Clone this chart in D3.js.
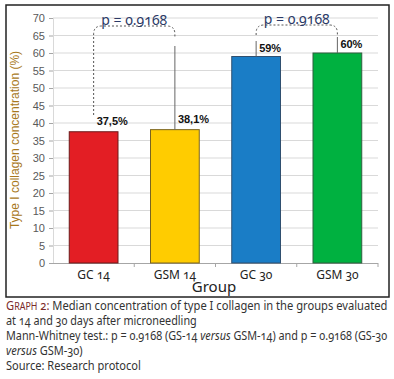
<!DOCTYPE html>
<html><head><meta charset="utf-8">
<script src="https://cdn.jsdelivr.net/npm/d3@7"></script>
<style>
html,body{margin:0;padding:0;background:#fff;}
.os{font-family:"Noto Sans","Open Sans",sans-serif;font-feature-settings:"onum" 1;font-variant-numeric:oldstyle-nums;}
</style></head>
<body>
<svg id="c" width="394" height="379"></svg>
<script>
const categories = ["GC 14", "GSM 14", "GC 30", "GSM 30"];
const values = [37.5, 38.1, 59, 60];
const valueLabels = ["37,5%", "38,1%", "59%", "60%"];
const barColors = ["#e31e24", "#ffcc00", "#1a7dc6", "#00b140"];
const barStrokes = ["#6b1a1a", "#7a6420", "#2f4f6f", "#2f5f3f"];
const yTicks = [0,5,10,15,20,25,30,35,40,45,50,55,60,65,70];
const pairs = [{a:0,b:1,p:"p = 0.9168"},{a:2,b:3,p:"p = 0.9168"}];

const svg = d3.select("#c");
svg.append("rect").attr("x",6).attr("y",5).attr("width",383).attr("height",292)
  .attr("fill","#fff").attr("stroke","#222").attr("stroke-width",1.5);

const x = d3.scaleBand().domain(categories).range([53,378]).paddingInner(0.4).paddingOuter(0.2);
const y = d3.scaleLinear().domain([0,70]).range([263,18]);

// gridlines
svg.append("g").selectAll("line").data(yTicks.filter(d=>d>0)).join("line")
  .attr("x1",53).attr("x2",378).attr("y1",d=>y(d)).attr("y2",d=>y(d))
  .attr("stroke","#d9d9d9").attr("stroke-width",1);

// y axis
const ya = svg.append("g").attr("transform","translate(53,0)")
  .call(d3.axisLeft(y).tickValues(yTicks).tickSize(4).tickPadding(4));
ya.select(".domain").attr("stroke","#d9d9d9");
ya.selectAll(".tick line").attr("stroke","#a6a6a6");
ya.selectAll("text").attr("font-family","Arial, Liberation Sans, sans-serif").attr("font-size",11).attr("fill","#595959");

// x axis
const xa = svg.append("g").attr("transform","translate(0,263)")
  .call(d3.axisBottom(x).tickSize(0).tickPadding(6));
xa.select(".domain").remove();
xa.selectAll("text").attr("class","os").attr("font-size",12).attr("fill","#222").attr("dy","0.8em");
svg.append("line").attr("x1",50).attr("x2",378).attr("y1",263.5).attr("y2",263.5).attr("stroke","#a6a6a6");
svg.append("g").selectAll("line").data(d3.range(1,5)).join("line")
  .attr("x1",i=>53+(378-53)/4*i).attr("x2",i=>53+(378-53)/4*i)
  .attr("y1",263).attr("y2",267).attr("stroke","#a6a6a6");

// bars
svg.append("g").selectAll("rect").data(values).join("rect")
  .attr("x",(d,i)=>x(categories[i])).attr("width",x.bandwidth())
  .attr("y",d=>y(d)).attr("height",d=>y(0)-y(d))
  .attr("fill",(d,i)=>barColors[i]).attr("stroke",(d,i)=>barStrokes[i]).attr("stroke-width",1);

// value labels
svg.append("g").selectAll("text").data(values).join("text")
  .attr("x",(d,i)=>x(categories[i])+x.bandwidth()/2+3)
  .attr("y",(d,i)=>y(d)-(i<2?7:5))
  .attr("font-family","Arial, Liberation Sans, sans-serif").attr("font-weight","bold")
  .attr("font-size",11).attr("fill","#111").text((d,i)=>valueLabels[i]);

// brackets
const cx = i => x(categories[i]) + x.bandwidth()/2;
const topY = [26, 25];
pairs.forEach((p,k)=>{
  const xa_ = cx(p.a), xb = cx(p.b), t = topY[k], r = 8;
  const leftEnd = k===0 ? 115 : 35;
  const path = d3.path();
  path.moveTo(xa_, leftEnd);
  path.lineTo(xa_, t + r);
  path.quadraticCurveTo(xa_, t, xa_ + r, t);
  path.lineTo(xb - r, t);
  path.quadraticCurveTo(xb, t, xb, t + r);
  path.lineTo(xb, t + 11);
  svg.append("path").attr("d", path.toString()).attr("fill","none")
    .attr("stroke","#555").attr("stroke-width",1).attr("stroke-dasharray","2,2");
  svg.append("text").attr("class","os").attr("x",(xa_+xb)/2).attr("y",t-1)
    .attr("text-anchor","middle").attr("font-size",14).attr("fill","#2b3a67").text(p.p);
});
// solid connector lines
const solid = [[1,46],[2,41],[3,37]];
solid.forEach(([i,y0])=>{
  svg.append("line").attr("x1",cx(i)).attr("x2",cx(i)).attr("y1",y0).attr("y2",y(values[i]))
    .attr("stroke","#666").attr("stroke-width",1);
});

// y label
svg.append("text").attr("transform","translate(19,140) rotate(-90)")
  .attr("text-anchor","middle").attr("font-family","Arial, Liberation Sans, sans-serif")
  .attr("font-size",12).attr("fill","#a8781c").text("Type I collagen concentration (%)");

// x title
svg.append("text").attr("class","os").attr("x",214).attr("y",292).attr("text-anchor","middle")
  .attr("font-size",15).attr("fill","#222").text("Group");

// caption (each line squeezed horizontally to the reference's width)
const cap = svg.append("g").attr("class","os").attr("font-size",12.5).attr("fill","#333");
function line(yy, w){
  const t = cap.append("text").attr("x",0).attr("y",0);
  return {t, fit(){ const nw = t.node().getBBox().width; t.attr("transform",`translate(6,${yy}) scale(${w/nw},1)`); }};
}
const l1 = line(310, 382);
l1.t.append("tspan").attr("fill","#7a2a2a").text("G");
l1.t.append("tspan").attr("fill","#7a2a2a").attr("font-size",10).text("RAPH");
l1.t.append("tspan").attr("fill","#7a2a2a").text(" 2:");
l1.t.append("tspan").text(" Median concentration of type I collagen in the groups evaluated");
l1.fit();
const l2 = line(325, 191); l2.t.text("at 14 and 30 days after microneedling"); l2.fit();
const l3 = line(340, 382);
l3.t.append("tspan").text("Mann-Whitney test.: p = 0.9168 (GS-14 ");
l3.t.append("tspan").attr("font-style","italic").text("versus");
l3.t.append("tspan").text(" GSM-14) and p = 0.9168 (GS-30");
l3.fit();
const l4 = line(355, 77);
l4.t.append("tspan").attr("font-style","italic").text("versus");
l4.t.append("tspan").text(" GSM-30)");
l4.fit();
const l5 = line(370, 135); l5.t.text("Source: Research protocol"); l5.fit();
</script>
</body></html>
